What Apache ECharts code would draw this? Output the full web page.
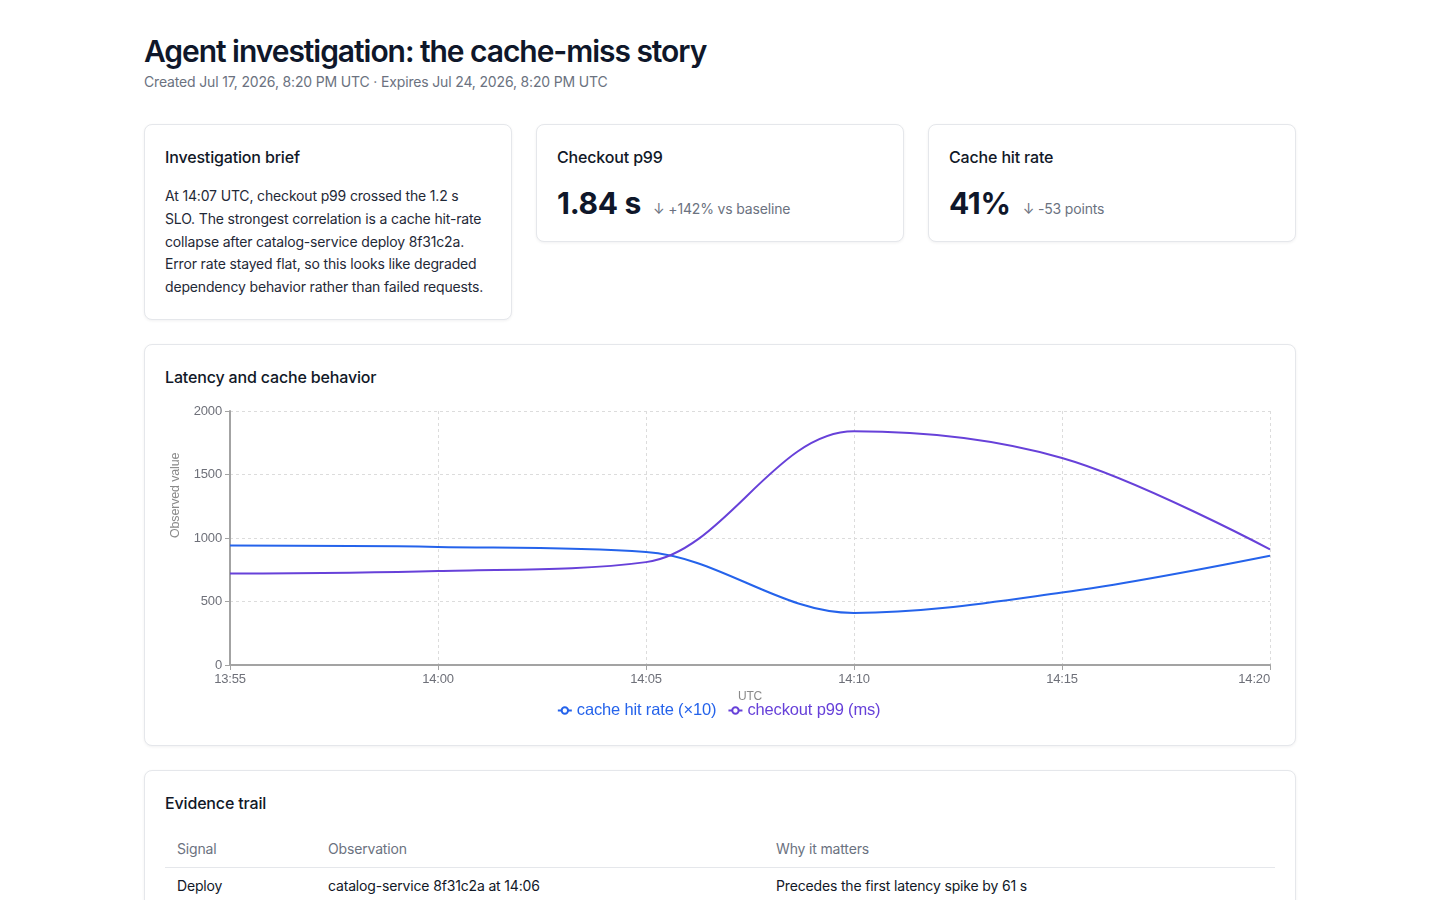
<!DOCTYPE html>
<html>
<head>
<meta charset="utf-8">
<title>Agent investigation: the cache-miss story</title>
<script src="https://cdn.jsdelivr.net/npm/echarts@6/dist/echarts.min.js"></script>
<style>
  * { box-sizing: border-box; }
  html, body { margin: 0; background: #ffffff; }
  body { font-family: Inter, "Noto Sans", sans-serif; color: #111827; letter-spacing: -0.01em; }
  .wrap { width: 1152px; margin: 0 auto; padding-top: 33px; }
  h1 { margin: 0; font-size: 30px; line-height: 36px; font-weight: 600; color: #0f172a; letter-spacing: -0.035em; }
  .sub { margin-top: 3px; font-size: 14px; line-height: 20px; color: #6b7280; }
  .row { display: grid; grid-template-columns: 368px 368px 368px; column-gap: 24px; align-items: start; margin-top: 32px; }
  .card { border: 1px solid #e5e7eb; border-radius: 8px; padding: 20px; background: #fff; box-shadow: 0 1px 3px rgba(15, 23, 42, 0.06); }
  .card h2 { margin: 0 0 16px 0; font-size: 16px; line-height: 24px; font-weight: 500; color: #111827; }
  .brief { margin: 0; font-size: 14px; line-height: 22.75px; color: #1f2937; }
  .kpi { display: flex; align-items: baseline; }
  .kpi .val { font-size: 30px; line-height: 36px; font-weight: 700; color: #0f172a; letter-spacing: -0.01em; }
  .kpi .delta { margin-left: 12px; font-size: 14px; line-height: 20px; color: #6b7280; }
  .block { margin-top: 24px; }
  #chart { width: 1110px; height: 336px; }
  table { width: 100%; border-collapse: collapse; font-size: 14px; line-height: 20px; }
  th { text-align: left; font-weight: 400; color: #6b7280; padding: 8px 12px; border-bottom: 1px solid #e5e7eb; }
  td { padding: 8px 12px; color: #111827; }
</style>
</head>
<body>
<div class="wrap">
  <h1>Agent investigation: the cache-miss story</h1>
  <div class="sub">Created Jul 17, 2026, 8:20 PM UTC · Expires Jul 24, 2026, 8:20 PM UTC</div>

  <div class="row">
    <div class="card">
      <h2>Investigation brief</h2>
      <p class="brief">At 14:07 UTC, checkout p99 crossed the 1.2 s SLO. The strongest correlation is a cache hit-rate collapse after catalog-service deploy 8f31c2a. Error rate stayed flat, so this looks like degraded dependency behavior rather than failed requests.</p>
    </div>
    <div class="card">
      <h2>Checkout p99</h2>
      <div class="kpi"><span class="val">1.84 s</span><span class="delta">↓ +142% vs baseline</span></div>
    </div>
    <div class="card">
      <h2>Cache hit rate</h2>
      <div class="kpi"><span class="val">41%</span><span class="delta">↓ -53 points</span></div>
    </div>
  </div>

  <div class="card block">
    <h2 style="margin-bottom:0">Latency and cache behavior</h2>
    <div id="chart"></div>
  </div>

  <div class="card block">
    <h2>Evidence trail</h2>
    <table>
      <colgroup><col style="width:151px"><col style="width:448px"><col></colgroup>
      <thead><tr><th>Signal</th><th>Observation</th><th>Why it matters</th></tr></thead>
      <tbody><tr><td>Deploy</td><td>catalog-service 8f31c2a at 14:06</td><td>Precedes the first latency spike by 61 s</td></tr></tbody>
    </table>
  </div>
</div>

<script>
// ---- data ----
const times = ['13:55', '14:00', '14:05', '14:10', '14:15', '14:20'];
const cacheHitRateX10 = [940, 930, 890, 410, 570, 860];
const checkoutP99Ms = [720, 740, 810, 1840, 1630, 910];
const yTicks = { min: 0, max: 2000, interval: 500 };
const seriesNames = ['cache hit rate (×10)', 'checkout p99 (ms)'];
const seriesColors = ['#2563eb', '#6741d9'];

const chart = echarts.init(document.getElementById('chart'), null, { renderer: 'canvas' });
const gridLine = { show: true, lineStyle: { color: '#dcdcdc', type: [3, 3], width: 1 } };
const axisLineStyle = { show: true, lineStyle: { color: '#a3a3a3', width: 2 } };
const labelStyle = { color: '#6e7079', fontSize: 13 };

chart.setOption({
  animation: false,
  grid: { left: 65, right: 5, top: 22, bottom: 60, containLabel: false, outerBoundsMode: 'none' },
  legend: {
    top: 308,
    left: 'center',
    itemWidth: 14,
    itemHeight: 8,
    itemGap: 8,
    textStyle: { fontSize: 16.5 },
    data: seriesNames.map((n, i) => ({ name: n, textStyle: { color: seriesColors[i] } }))
  },
  xAxis: {
    type: 'category',
    data: times,
    boundaryGap: false,
    name: 'UTC',
    nameLocation: 'middle',
    nameGap: 26,
    nameTextStyle: { color: '#8a8a8a', fontSize: 12 },
    axisLine: axisLineStyle,
    axisTick: { show: true, lineStyle: { color: '#a3a3a3' } },
    axisLabel: Object.assign({ alignMaxLabel: 'right' }, labelStyle),
    splitLine: gridLine
  },
  yAxis: {
    type: 'value',
    min: yTicks.min,
    max: yTicks.max,
    interval: yTicks.interval,
    name: 'Observed value',
    nameLocation: 'middle',
    nameGap: 48,
    nameTextStyle: { color: '#8a8a8a', fontSize: 12.5, align: 'left' },
    axisLine: axisLineStyle,
    axisTick: { show: true, lineStyle: { color: '#a3a3a3' } },
    axisLabel: Object.assign({ formatter: (v) => String(v) }, labelStyle),
    splitLine: gridLine
  },
  series: [
    {
      name: seriesNames[0], type: 'line', data: cacheHitRateX10, smooth: 0.35,
      showSymbol: false, symbol: 'emptyCircle', color: seriesColors[0],
      lineStyle: { width: 2, color: seriesColors[0] }
    },
    {
      name: seriesNames[1], type: 'line', data: checkoutP99Ms, smooth: 0.35,
      showSymbol: false, symbol: 'emptyCircle', color: seriesColors[1],
      lineStyle: { width: 2, color: seriesColors[1] }
    }
  ]
});
</script>
</body>
</html>
